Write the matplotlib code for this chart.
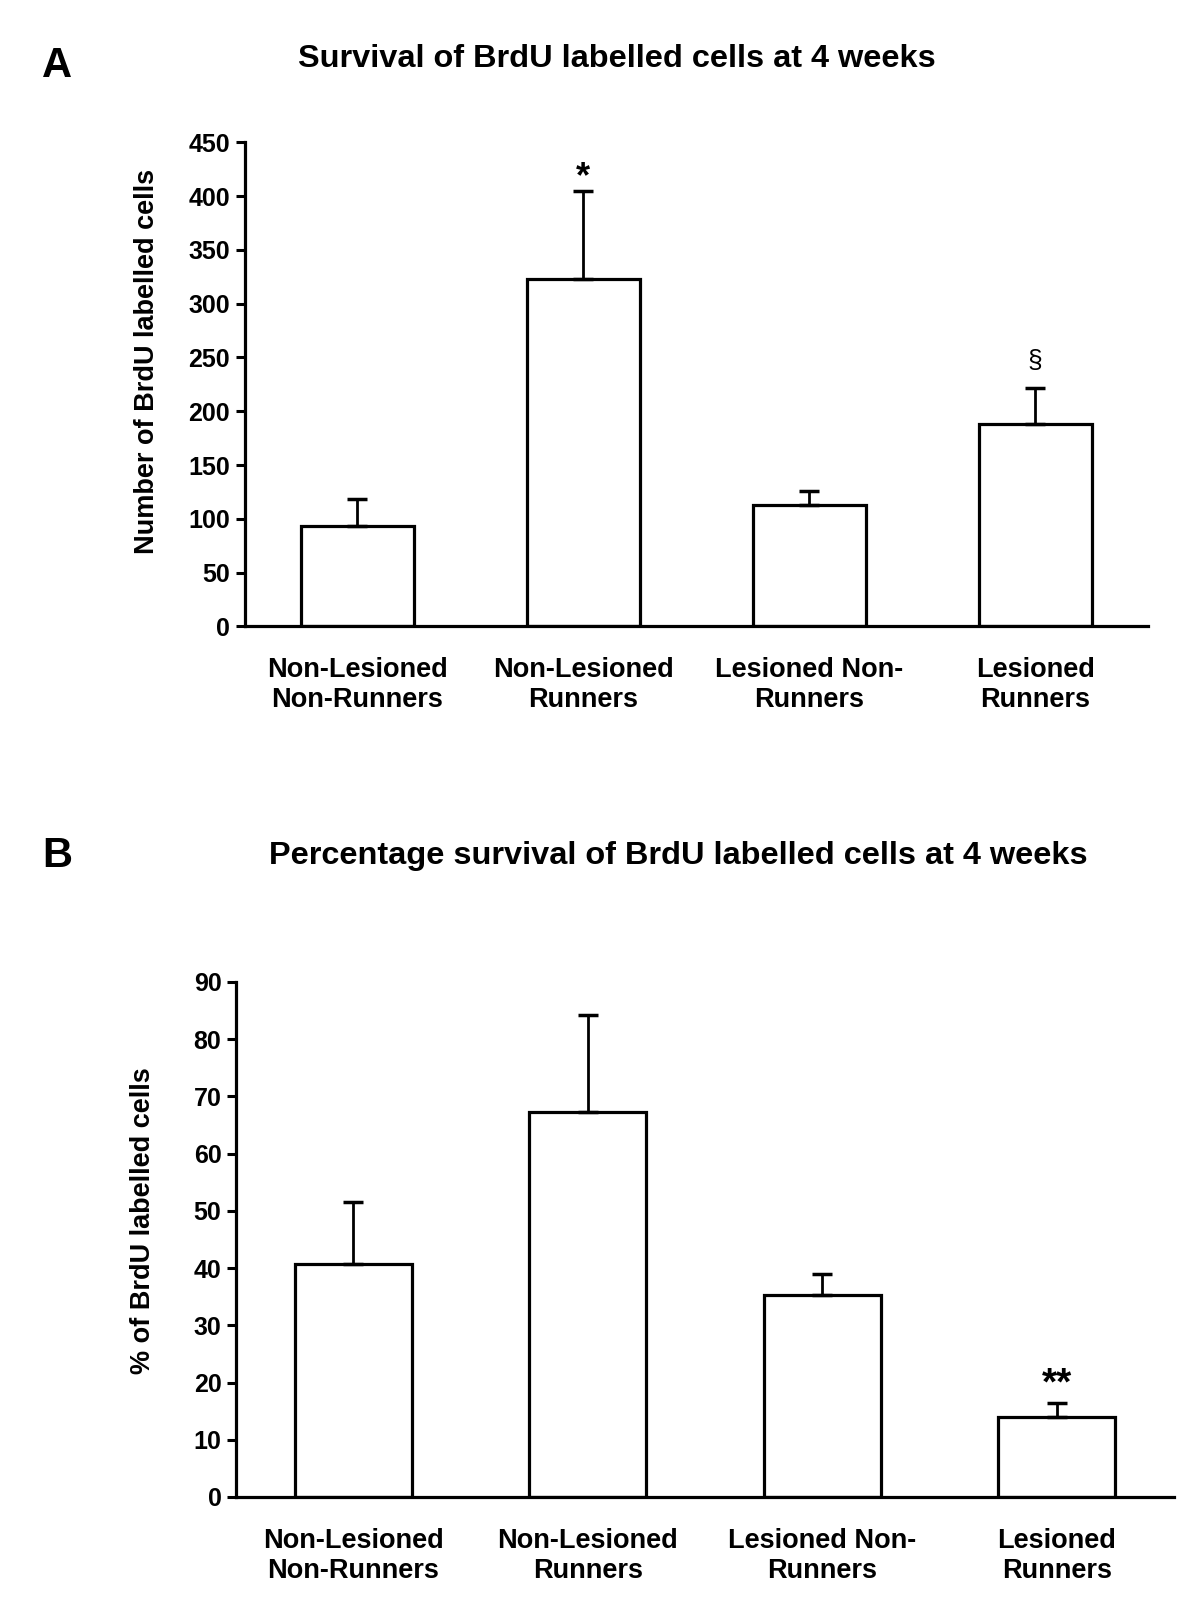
import matplotlib.pyplot as plt
import numpy as np

plt.rcParams['font.family'] = ['Liberation Sans', 'DejaVu Sans']
plt.rcParams['font.weight'] = 'bold'
plt.rcParams['axes.labelweight'] = 'bold'
plt.rcParams['axes.spines.top'] = False
plt.rcParams['axes.spines.right'] = False

groups = ['Non-Lesioned\nNon-Runners', 'Non-Lesioned\nRunners',
          'Lesioned Non-\nRunners', 'Lesioned\nRunners']

# panel A: number of BrdU cells
count_mean = [93.5, 323, 113, 188.5]
count_sem = [24.5, 82, 12.5, 33.5]
count_marks = ['', '*', '', '§']

# panel B: percentage survival
pct_mean = [40.7, 67.3, 35.3, 14.0]
pct_sem = [10.9, 16.9, 3.6, 2.5]
pct_marks = ['', '', '', '**']

# gap between error bar and marker (fraction of y range), font size, weight
mark_style = {'*': (0.027, 26, 'bold'), '**': (0.036, 28, 'bold'), '§': (0.054, 19, 'normal')}

fig = plt.figure(figsize=(12, 16.18), dpi=100)


def panel(ax, means, sems, marks, ymax, step, ylabel):
    x = np.arange(len(groups))
    ax.bar(x, means, width=0.5, color='white', edgecolor='black', linewidth=2.3, zorder=2)
    ax.errorbar(x, means, yerr=[np.zeros(len(sems)), sems], fmt='none',
                ecolor='black', elinewidth=2, capsize=7, capthick=2.5, zorder=3)
    for xi, mk, m, s in zip(x, marks, means, sems):
        if mk:
            off, fs, fw = mark_style[mk]
            ax.text(xi, m + s + off * ymax, mk, ha='center', va='center',
                    fontsize=fs, fontweight=fw)
    ax.set_xlim(-0.5, 3.5)
    ax.set_ylim(0, ymax)
    ax.set_yticks(np.arange(0, ymax + 1, step))
    ax.set_xticks(x)
    ax.set_xticklabels(groups, fontsize=19.5, linespacing=1.22)
    ax.tick_params(axis='x', length=0, pad=22)
    ax.tick_params(axis='y', length=6.5, width=2.2, labelsize=18, pad=4)
    for s in ['left', 'bottom']:
        ax.spines[s].set_linewidth(2.3)
    ax.set_ylabel(ylabel, fontsize=19.5)


axA = fig.add_axes([0.2038, 0.6129, 0.7529, 0.2991])
panel(axA, count_mean, count_sem, count_marks, 450, 50,
      'Number of BrdU labelled cells')
axA.yaxis.set_label_coords(-0.094, 0.548)

axB = fig.add_axes([0.1967, 0.0748, 0.7816, 0.3183])
panel(axB, pct_mean, pct_sem, pct_marks, 90, 10,
      '% of BrdU labelled cells')
axB.yaxis.set_label_coords(-0.085, 0.537)

fig.text(0.0475, 0.9595, 'A', fontsize=30, ha='center', va='center')
fig.text(0.514, 0.9637, 'Survival of BrdU labelled cells at 4 weeks',
         fontsize=23.4, ha='center', va='center')
fig.text(0.0475, 0.4712, 'B', fontsize=30, ha='center', va='center')
fig.text(0.565, 0.4712, 'Percentage survival of BrdU labelled cells at 4 weeks',
         fontsize=23.4, ha='center', va='center')

fig.savefig('out.png', dpi=100)
